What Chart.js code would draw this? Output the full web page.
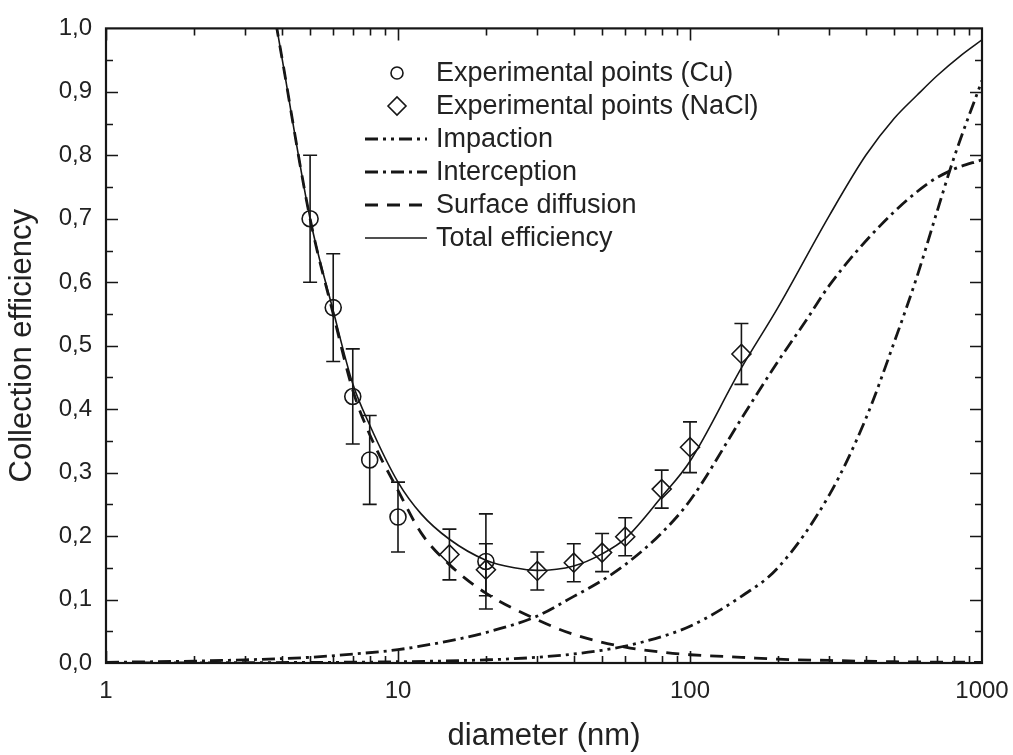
<!DOCTYPE html>
<html>
<head>
<meta charset="utf-8">
<title>Collection efficiency</title>
<script src="https://cdn.jsdelivr.net/npm/chart.js@4.4.1/dist/chart.umd.min.js"></script>
<style>
  html, body { margin: 0; padding: 0; background: #fff; }
  #wrap { width: 1013px; height: 755px; }
</style>
</head>
<body>
<div id="wrap"><canvas id="effChart" width="1013" height="755"></canvas></div>
<script>
"use strict";
// experimental points
const cuX = [5, 6, 7, 8, 10, 20];
const cuY = [0.70, 0.56, 0.42, 0.32, 0.23, 0.16];
const cuErr = [0.10, 0.085, 0.075, 0.07, 0.055, 0.075];

const naclX = [15, 20, 30, 40, 50, 60, 80, 100, 150];
const naclY = [0.171, 0.147, 0.145, 0.158, 0.174, 0.199, 0.274, 0.34, 0.487];
const naclErr = [0.04, 0.041, 0.03, 0.03, 0.03, 0.03, 0.03, 0.04, 0.048];

// model curves
const impX = [1, 3, 10, 20, 30, 50, 70, 100, 150, 200, 300, 400, 500, 600, 700, 800, 1000];
const impY = [0, 0.0005, 0.002, 0.005, 0.009, 0.02, 0.034, 0.058, 0.105, 0.15, 0.265, 0.385, 0.505, 0.61, 0.71, 0.795, 0.918];

const intX = [1, 2, 3, 5, 7, 10, 15, 20, 30, 40, 50, 60, 80, 100, 150, 200, 250, 300, 450, 650, 800, 1000];
const intY = [0.001, 0.003, 0.005, 0.009, 0.014, 0.021, 0.035, 0.048, 0.074, 0.105, 0.13, 0.155, 0.205, 0.256, 0.385, 0.475, 0.54, 0.595, 0.69, 0.755, 0.778, 0.793];

const difX = [3.5, 4, 5, 6, 7, 8, 10, 12, 15, 20, 30, 40, 60, 80, 100, 150, 200, 300, 500, 1000];
const difY = [1.11, 0.955, 0.70, 0.55, 0.43, 0.36, 0.272, 0.205, 0.155, 0.11, 0.068, 0.045, 0.025, 0.017, 0.013, 0.009, 0.006, 0.004, 0.002, 0.001];

const totX = [3.5, 4, 5, 6, 7, 8, 10, 12, 15, 20, 25, 30, 40, 50, 60, 80, 100, 150, 200, 300, 400, 500, 600, 700, 850, 1000];
const totY = [1.11, 0.955, 0.70, 0.555, 0.44, 0.375, 0.285, 0.235, 0.195, 0.162, 0.150, 0.146, 0.153, 0.172, 0.196, 0.262, 0.318, 0.465, 0.56, 0.705, 0.80, 0.858, 0.895, 0.925, 0.958, 0.982];

const xTicks = [1, 10, 100, 1000];
const legendLabels = [
  "Experimental points (Cu)",
  "Experimental points (NaCl)",
  "Impaction",
  "Interception",
  "Surface diffusion",
  "Total efficiency",
];

const INK = "#161616";
const DASH_IMP = [13, 5, 3, 5, 3, 5];
const DASH_INT = [13, 5, 3, 5];
const DASH_DIF = [13, 9];

function pts(xs, ys) {
  return xs.map((x, i) => ({ x: x, y: ys[i] }));
}

function curve(label, xs, ys, dash, width) {
  return {
    label: label,
    data: pts(xs, ys),
    showLine: true,
    borderColor: INK,
    borderWidth: width,
    borderDash: dash,
    pointRadius: 0,
    cubicInterpolationMode: "monotone",
    clip: 0,
  };
}

// error bars for the two experimental sets
const errorBars = {
  id: "errorBars",
  afterDatasetsDraw(chart) {
    const { ctx, scales: { x, y } } = chart;
    ctx.save();
    ctx.strokeStyle = INK;
    ctx.lineWidth = 1.6;
    const sets = [[cuX, cuY, cuErr], [naclX, naclY, naclErr]];
    sets.forEach(([xs, ys, es]) => {
      xs.forEach((v, i) => {
        const px = x.getPixelForValue(v);
        const top = y.getPixelForValue(ys[i] + es[i]);
        const bot = y.getPixelForValue(ys[i] - es[i]);
        ctx.beginPath();
        ctx.moveTo(px, top);
        ctx.lineTo(px, bot);
        ctx.moveTo(px - 7, top);
        ctx.lineTo(px + 7, top);
        ctx.moveTo(px - 7, bot);
        ctx.lineTo(px + 7, bot);
        ctx.stroke();
      });
    });
    ctx.restore();
  },
};

// box frame with inward ticks on all four sides
const frame = {
  id: "frame",
  afterDraw(chart) {
    const { ctx, chartArea: a, scales: { x, y } } = chart;
    ctx.save();
    ctx.strokeStyle = INK;
    ctx.lineWidth = 1.6;
    ctx.beginPath();
    for (let d = 1; d < 1000; d *= 10) {
      for (let k = 1; k <= 9; k++) {
        const px = Math.round(x.getPixelForValue(k * d)) + 0.5;
        const len = k === 1 ? 12 : 7;
        ctx.moveTo(px, a.bottom);
        ctx.lineTo(px, a.bottom - len);
        ctx.moveTo(px, a.top);
        ctx.lineTo(px, a.top + len);
      }
    }
    for (let i = 1; i < 20; i++) {
      const py = Math.round(y.getPixelForValue(i * 0.05)) + 0.5;
      const len = i % 2 === 0 ? 12 : 7;
      ctx.moveTo(a.left, py);
      ctx.lineTo(a.left + len, py);
      ctx.moveTo(a.right, py);
      ctx.lineTo(a.right - len, py);
    }
    ctx.stroke();
    ctx.lineWidth = 2.2;
    ctx.strokeRect(a.left, a.top, a.right - a.left, a.bottom - a.top);
    ctx.restore();
  },
};

// legend drawn inside the plot, upper middle
const innerLegend = {
  id: "innerLegend",
  afterDraw(chart) {
    const ctx = chart.ctx;
    const x0 = 365, x1 = 427, tx = 436, y0 = 73, step = 33;
    ctx.save();
    ctx.font = "27px 'Liberation Sans', Arial, sans-serif";
    ctx.fillStyle = "#222";
    ctx.textBaseline = "middle";
    ctx.strokeStyle = INK;
    legendLabels.forEach((txt, i) => {
      const yy = y0 + i * step;
      ctx.fillText(txt, tx, yy + 1);
      ctx.beginPath();
      ctx.setLineDash([]);
      if (i === 0) {
        ctx.lineWidth = 1.6;
        ctx.arc(397, yy, 6, 0, Math.PI * 2);
      } else if (i === 1) {
        ctx.lineWidth = 1.6;
        ctx.moveTo(397 - 9, yy);
        ctx.lineTo(397, yy - 9);
        ctx.lineTo(397 + 9, yy);
        ctx.lineTo(397, yy + 9);
        ctx.closePath();
      } else {
        const dash = [null, null, DASH_IMP, DASH_INT, DASH_DIF, []][i];
        ctx.lineWidth = i === 5 ? 1.6 : 2.8;
        ctx.setLineDash(dash);
        ctx.moveTo(x0, yy);
        ctx.lineTo(x1, yy);
      }
      ctx.stroke();
    });
    ctx.restore();
  },
};

Chart.defaults.font.family = "'Liberation Sans', Arial, sans-serif";
Chart.defaults.color = "#222";

const effCtx = document.getElementById("effChart");
const effChart = new Chart(effCtx, {
  type: "scatter",
  data: {
    datasets: [
      {
        label: legendLabels[0],
        data: pts(cuX, cuY),
        pointStyle: "circle",
        pointRadius: 8,
        pointBorderWidth: 1.6,
        borderColor: INK,
        backgroundColor: "rgba(0,0,0,0)",
      },
      {
        label: legendLabels[1],
        data: pts(naclX, naclY),
        pointStyle: "rectRot",
        pointRadius: 9.5,
        pointBorderWidth: 1.6,
        borderColor: INK,
        backgroundColor: "rgba(0,0,0,0)",
      },
      curve(legendLabels[5], totX, totY, [], 1.6),
      curve(legendLabels[2], impX, impY, DASH_IMP, 2.8),
      curve(legendLabels[3], intX, intY, DASH_INT, 2.8),
      curve(legendLabels[4], difX, difY, DASH_DIF, 2.8),
    ],
  },
  options: {
    responsive: false,
    animation: false,
    layout: { padding: { top: 24, right: 31, left: 0, bottom: 0 } },
    plugins: {
      legend: { display: false },
      tooltip: { enabled: false },
    },
    scales: {
      x: {
        type: "logarithmic",
        min: 1,
        max: 1000,
        grid: { display: false, drawTicks: false },
        border: { display: false },
        afterBuildTicks: (s) => {
          s.ticks = xTicks.map((v) => ({ value: v }));
        },
        afterFit: (s) => {
          s.height = 92;
          s.paddingLeft = 0;
          s.paddingRight = 0;
        },
        ticks: {
          padding: 14,
          maxRotation: 0,
          autoSkip: false,
          font: { size: 24 },
          callback: (v) => String(v),
        },
        title: {
          display: true,
          text: "diameter (nm)",
          font: { size: 31 },
          padding: { top: 0, bottom: 0 },
        },
      },
      y: {
        min: 0,
        max: 1,
        grid: { display: false, drawTicks: false },
        border: { display: false },
        afterFit: (s) => {
          s.width = 106;
        },
        ticks: {
          stepSize: 0.1,
          padding: 14,
          font: { size: 24 },
          callback: (v) => v.toFixed(1).replace(".", ","),
        },
        title: {
          display: true,
          text: "Collection efficiency",
          font: { size: 31 },
          padding: { top: 4, bottom: 0 },
        },
      },
    },
  },
  plugins: [errorBars, frame, innerLegend],
});
</script>
</body>
</html>
